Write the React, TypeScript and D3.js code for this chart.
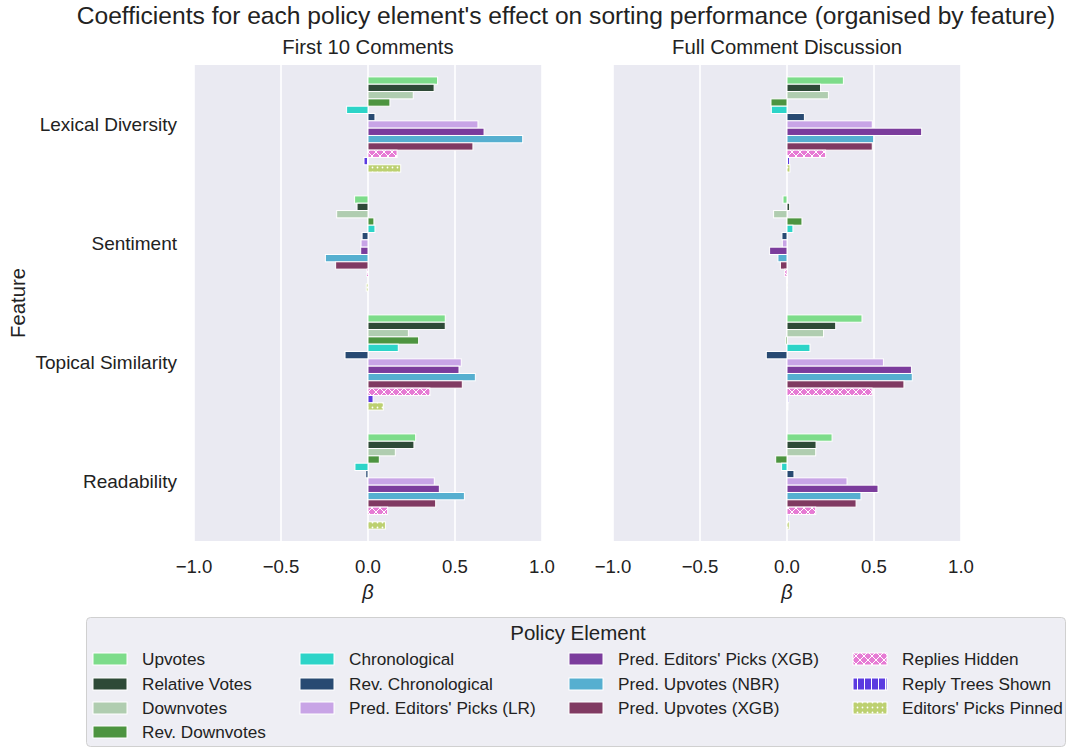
import React from 'react';
import * as d3 from 'd3';

const features = ['Lexical Diversity', 'Sentiment', 'Topical Similarity', 'Readability'];

const policies = [
  'Upvotes', 'Relative Votes', 'Downvotes', 'Rev. Downvotes',
  'Chronological', 'Rev. Chronological', "Pred. Editors' Picks (LR)",
  "Pred. Editors' Picks (XGB)", 'Pred. Upvotes (NBR)', 'Pred. Upvotes (XGB)',
  'Replies Hidden', 'Reply Trees Shown', "Editors' Picks Pinned",
];

const policyColors = [
  '#7ddc8a', '#2e4a37', '#b0cdb0', '#4d9440',
  '#2dd4c8', '#284a72', '#c8a4e6',
  '#7b3c9c', '#56afd0', '#803a62',
  '#e67ad4', '#5a3ae0', '#bcd070',
];

// hatch per policy (matplotlib style)
const policyHatch = ['', '', '', '', '', '', '', '', '', '', 'x', '|', '.'];

// First 10 Comments
const first10Lexical = [0.40, 0.38, 0.26, 0.126, -0.123, 0.04, 0.632, 0.667, 0.889, 0.603, 0.167, -0.023, 0.188];
const first10Sentiment = [-0.077, -0.063, -0.18, 0.034, 0.04, -0.034, -0.04, -0.042, -0.245, -0.186, -0.006, 0.0, -0.01];
const first10Topical = [0.444, 0.444, 0.232, 0.291, 0.174, -0.132, 0.536, 0.523, 0.617, 0.542, 0.356, 0.029, 0.088];
const first10Readability = [0.274, 0.264, 0.157, 0.065, -0.075, -0.013, 0.381, 0.41, 0.554, 0.389, 0.113, 0.0, 0.10];

// Full Comment Discussion
const fullLexical = [0.324, 0.193, 0.238, -0.092, -0.09, 0.10, 0.49, 0.774, 0.498, 0.49, 0.222, 0.015, 0.017];
const fullSentiment = [-0.023, 0.015, -0.077, 0.086, 0.034, -0.029, -0.027, -0.10, -0.052, -0.038, -0.013, 0.002, 0.002];
const fullTopical = [0.431, 0.28, 0.21, -0.008, 0.132, -0.119, 0.554, 0.715, 0.72, 0.672, 0.489, 0.01, 0.005];
const fullReadability = [0.259, 0.167, 0.165, -0.065, -0.031, 0.04, 0.345, 0.523, 0.425, 0.397, 0.165, 0.01, 0.013];

const xTicks = [-1.0, -0.5, 0.0, 0.5, 1.0];

const panels = [
  { title: 'First 10 Comments', left: 194, right: 542, values: [first10Lexical, first10Sentiment, first10Topical, first10Readability] },
  { title: 'Full Comment Discussion', left: 613, right: 961, values: [fullLexical, fullSentiment, fullTopical, fullReadability] },
];

const FONT = "'Liberation Sans', Arial, sans-serif";
const top = 65;
const bottom = 541;

function fillFor(i: number) {
  return policyHatch[i] ? `url(#hatch-${i})` : policyColors[i];
}

function Panel({ p, idx }: { p: typeof panels[number]; idx: number }) {
  const x = d3.scaleLinear().domain([-1, 1]).range([p.left, p.right]);
  const y = d3.scaleBand<string>().domain(features).range([top, bottom]).paddingInner(0.2).paddingOuter(0.1);
  const inner = d3.scaleBand<string>().domain(policies).range([0, y.bandwidth()]);
  return (
    <g>
      <rect x={p.left} y={top} width={p.right - p.left} height={bottom - top} fill="#eaeaf2" />
      {xTicks.map(t => (
        <line key={t} x1={x(t)} x2={x(t)} y1={top} y2={bottom} stroke="#fff" strokeWidth={1.6} />
      ))}
      {features.map((f, fi) =>
        p.values[fi].map((v, pi) => {
          const x0 = x(Math.min(0, v));
          const w = Math.abs(x(v) - x(0));
          return (
            <rect
              key={f + pi}
              x={x0}
              y={(y(f) ?? 0) + (inner(policies[pi]) ?? 0)}
              width={w}
              height={inner.bandwidth()}
              fill={fillFor(pi)}
              stroke="#fff"
              strokeWidth={1}
            />
          );
        })
      )}
      <text x={(p.left + p.right) / 2} y={54} textAnchor="middle" fontSize={20.3} fill="#222">{p.title}</text>
      {xTicks.map(t => (
        <text key={t} x={x(t)} y={573} textAnchor="middle" fontSize={18.6} fill="#222">
          {d3.format('.1f')(t).replace('-', '\u2212')}
        </text>
      ))}
      <text x={(p.left + p.right) / 2} y={599} textAnchor="middle" fontSize={20} fontStyle="italic" fill="#222">β</text>
      {idx === 0 &&
        features.map(f => (
          <text key={f} x={177} y={(y(f) ?? 0) + y.bandwidth() / 2} dy="0.35em" textAnchor="end" fontSize={19} fill="#222">{f}</text>
        ))}
    </g>
  );
}

export default function App() {
  const legendCols = [[0, 1, 2, 3], [4, 5, 6], [7, 8, 9], [10, 11, 12]];
  const colPatchX = [93, 300, 569, 853];
  const rowY = [659, 684, 708, 732];
  return (
    <svg width={1067} height={749} style={{ position: 'absolute', left: 0, top: 0, background: '#fff' }} fontFamily={FONT}>
      <defs>
        {policyColors.map((c, i) => {
          const h = policyHatch[i];
          if (!h) return null;
          if (h === 'x')
            return (
              <pattern key={i} id={`hatch-${i}`} patternUnits="userSpaceOnUse" width={8} height={8}>
                <rect width={8} height={8} fill={c} />
                <path d="M0,0 L8,8 M8,0 L0,8" stroke="#fff" strokeWidth={1} />
              </pattern>
            );
          if (h === '|')
            return (
              <pattern key={i} id={`hatch-${i}`} patternUnits="userSpaceOnUse" width={7} height={7}>
                <rect width={7} height={7} fill={c} />
                <path d="M3.5,0 L3.5,7" stroke="#fff" strokeWidth={1} />
              </pattern>
            );
          return (
            <pattern key={i} id={`hatch-${i}`} patternUnits="userSpaceOnUse" width={5} height={5}>
              <rect width={5} height={5} fill={c} />
              <circle cx={2.5} cy={2.5} r={0.9} fill="#fff" />
            </pattern>
          );
        })}
      </defs>
      <text x={566} y={24} textAnchor="middle" fontSize={24.6} fill="#222">
        Coefficients for each policy element's effect on sorting performance (organised by feature)
      </text>
      {panels.map((p, i) => <Panel key={p.title} p={p} idx={i} />)}
      <text transform={`translate(25,${(top + bottom) / 2}) rotate(-90)`} textAnchor="middle" fontSize={20.3} fill="#222">Feature</text>

      <rect x={86.5} y={617.5} width={979} height={129} rx={4} fill="#eeeef4" stroke="#d0d0d0" />
      <text x={578} y={640} textAnchor="middle" fontSize={20.5} fill="#222">Policy Element</text>
      {legendCols.map((col, ci) =>
        col.map((pi, ri) => (
          <g key={pi}>
            <rect x={colPatchX[ci]} y={rowY[ri] - 6} width={34} height={12} fill={fillFor(pi)} stroke="#fff" strokeWidth={1} />
            <text x={colPatchX[ci] + 49} y={rowY[ri]} dy="0.35em" fontSize={17.2} fill="#222">{policies[pi]}</text>
          </g>
        ))
      )}
    </svg>
  );
}
